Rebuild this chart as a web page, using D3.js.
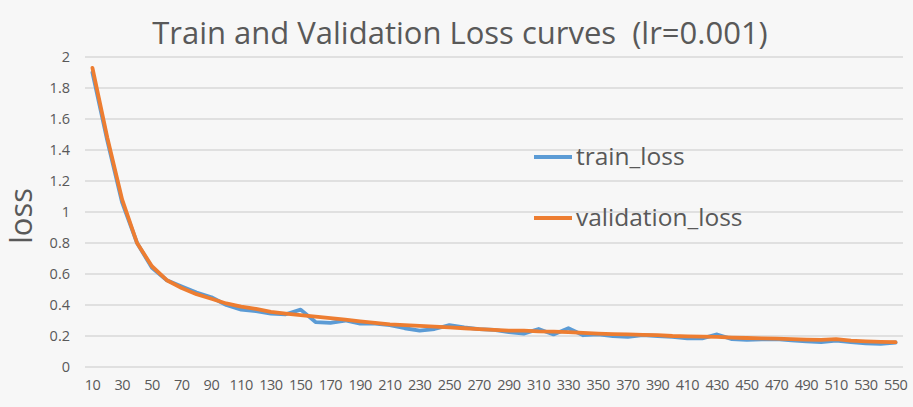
<!DOCTYPE html>
<html><head><meta charset="utf-8">
<script src="https://cdn.jsdelivr.net/npm/d3@7"></script>
<style>
html,body{margin:0;padding:0;background:#f7f7f7;}
svg{display:block;}
text{font-family:"Open Sans",sans-serif;fill:#595959;}
</style></head><body>
<svg id="c" width="913" height="407"></svg>
<script>
const epochs = d3.range(10, 551, 10);
const trainLoss = [1.90,1.46,1.06,0.80,0.64,0.56,0.52,0.48,0.45,0.40,0.37,0.36,0.345,0.34,0.37,0.29,0.285,0.30,0.28,0.28,0.27,0.25,0.235,0.245,0.27,0.255,0.245,0.24,0.225,0.215,0.245,0.21,0.25,0.205,0.21,0.20,0.195,0.205,0.20,0.195,0.185,0.185,0.21,0.18,0.175,0.178,0.18,0.172,0.165,0.16,0.17,0.16,0.152,0.15,0.158];
const valLoss = [1.93,1.48,1.08,0.80,0.65,0.56,0.51,0.47,0.44,0.41,0.39,0.375,0.355,0.345,0.335,0.325,0.315,0.305,0.295,0.285,0.275,0.27,0.265,0.26,0.255,0.25,0.245,0.24,0.235,0.235,0.23,0.228,0.225,0.22,0.215,0.212,0.21,0.207,0.205,0.20,0.198,0.196,0.195,0.19,0.187,0.185,0.183,0.18,0.177,0.175,0.18,0.17,0.165,0.162,0.16];
const yTicks = [0,0.2,0.4,0.6,0.8,1,1.2,1.4,1.6,1.8,2];
const xTickLabels = epochs.filter((d,i)=>i%2===0);
const seriesNames = ["train_loss","validation_loss"];
const colors = ["#5B9BD5","#ED7D31"];

const svg = d3.select("#c");
const L=85, R=903, T=57, B=367;
const x = d3.scaleBand().domain(epochs).range([L,R]);
const y = d3.scaleLinear().domain([0,2]).range([B,T]);

// gridlines
svg.append("g").selectAll("line").data(yTicks).join("line")
  .attr("x1",L).attr("x2",R).attr("y1",d=>y(d)).attr("y2",d=>y(d))
  .attr("stroke","#d9d9d9").attr("stroke-width",1.5);

// y axis labels
const yAxis = d3.axisLeft(y).tickValues(yTicks).tickSize(0).tickPadding(0).tickFormat(d=>String(d));
const gy = svg.append("g").attr("transform",`translate(${L-15},0)`).call(yAxis);
gy.select(".domain").remove();
gy.selectAll("text").style("font-size","14.5px").style("font-family","Open Sans").attr("fill","#595959");

// x axis labels
const xAxis = d3.axisBottom(x).tickValues(xTickLabels).tickSize(0).tickPadding(0);
const gx = svg.append("g").attr("transform",`translate(0,${B+13})`).call(xAxis);
gx.select(".domain").remove();
gx.selectAll("text").style("font-size","14.5px").style("font-family","Open Sans").attr("fill","#595959").attr("letter-spacing","-0.5px");

// lines
const line = d3.line().x((d,i)=>x(epochs[i])+x.bandwidth()/2).y(d=>y(d));
[trainLoss,valLoss].forEach((s,k)=>{
  svg.append("path").datum(s).attr("d",line).attr("fill","none")
    .attr("stroke",colors[k]).attr("stroke-width",3.8).attr("stroke-linejoin","round").attr("stroke-linecap","round");
});

// title
svg.append("text").attr("x",460).attr("y",44).attr("text-anchor","middle")
  .style("font-size","31px").style("white-space","pre").attr("fill","#505050")
  .text("Train and Validation Loss curves  (lr=0.001)");

// y label
svg.append("text").attr("transform","translate(32,216) rotate(-90)").attr("text-anchor","middle")
  .style("font-size","31px").text("loss");

// legend
const leg = svg.append("g");
seriesNames.forEach((n,k)=>{
  const yy = 157 + k*61;
  leg.append("line").attr("x1",534).attr("x2",572).attr("y1",yy).attr("y2",yy)
    .attr("stroke",colors[k]).attr("stroke-width",4);
  leg.append("text").attr("x",576).attr("y",yy+8).style("font-size","24.5px").text(n);
});
</script>
</body></html>
